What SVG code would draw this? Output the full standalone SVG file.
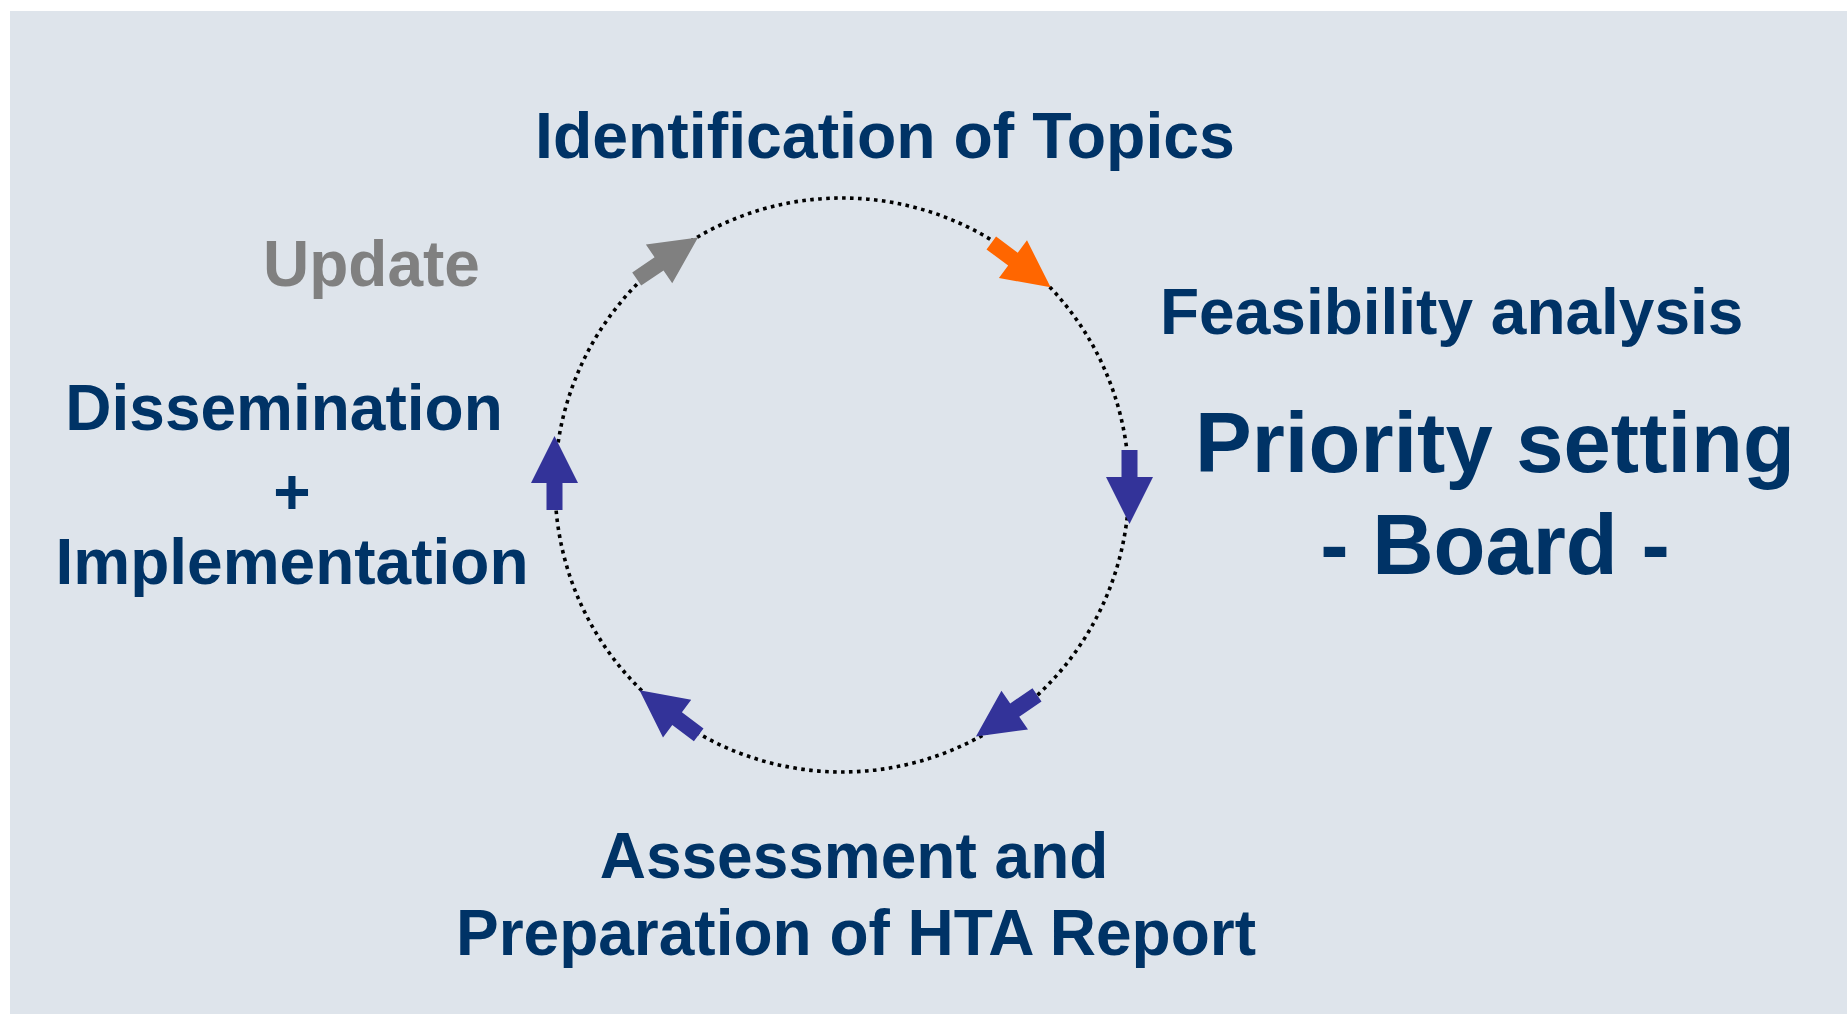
<svg xmlns="http://www.w3.org/2000/svg" width="1847" height="1014" viewBox="0 0 1847 1014">
  <style>
    .lbl { font-family: "Liberation Sans", Arial, sans-serif; font-weight: bold; fill: #003366; }
    .upd { font-family: "Liberation Sans", Arial, sans-serif; font-weight: bold; fill: #808080; }
    .ring { fill: none; stroke: #000000; stroke-width: 3.6; stroke-dasharray: 3.6 4.4; }
    .blue { fill: #333399; }
    .orange { fill: #FF6600; }
    .gray { fill: #808080; }
  </style>
  <defs>
    <polygon id="blockArrow" points="0,-8 27,-8 27,-23.5 74,0 27,23.5 27,8 0,8"/>
  </defs>
  <rect x="10" y="11" width="1837" height="1003" fill="#DEE4EB"/>
  <g id="connectors">
    <circle class="ring" cx="842" cy="485" r="287"/>
    <use href="#blockArrow" class="orange" transform="translate(991.3,243) rotate(36.7)"/>
    <use href="#blockArrow" class="blue" transform="translate(1129.5,450) rotate(90)"/>
    <use href="#blockArrow" class="blue" transform="translate(1037,694.8) rotate(145.6)"/>
    <use href="#blockArrow" class="blue" transform="translate(698.7,734.8) rotate(-143.1)"/>
    <use href="#blockArrow" class="blue" transform="translate(554.5,510) rotate(-90)"/>
    <use href="#blockArrow" class="gray" transform="translate(636.7,279) rotate(-34.1)"/>
  </g>
  <g id="node-identification">
    <text class="lbl" x="535" y="158" font-size="64.4">Identification of Topics</text>
  </g>
  <g id="node-feasibility">
    <text class="lbl" x="1160" y="334" font-size="64">Feasibility analysis</text>
  </g>
  <g id="node-priority">
    <text class="lbl" x="1495" y="472" font-size="85" text-anchor="middle">Priority setting</text>
    <text class="lbl" x="1495" y="574" font-size="85" text-anchor="middle">- Board -</text>
  </g>
  <g id="node-assessment">
    <text class="lbl" x="854" y="878" font-size="64" text-anchor="middle">Assessment and</text>
    <text class="lbl" x="856" y="955" font-size="64" text-anchor="middle">Preparation of HTA Report</text>
  </g>
  <g id="node-dissemination">
    <text class="lbl" x="284" y="430" font-size="64" text-anchor="middle">Dissemination</text>
    <text class="lbl" x="292" y="514" font-size="64" text-anchor="middle">+</text>
    <text class="lbl" x="292" y="584" font-size="64" text-anchor="middle">Implementation</text>
  </g>
  <g id="node-update">
    <text class="upd" x="263" y="286" font-size="64">Update</text>
  </g>
</svg>
